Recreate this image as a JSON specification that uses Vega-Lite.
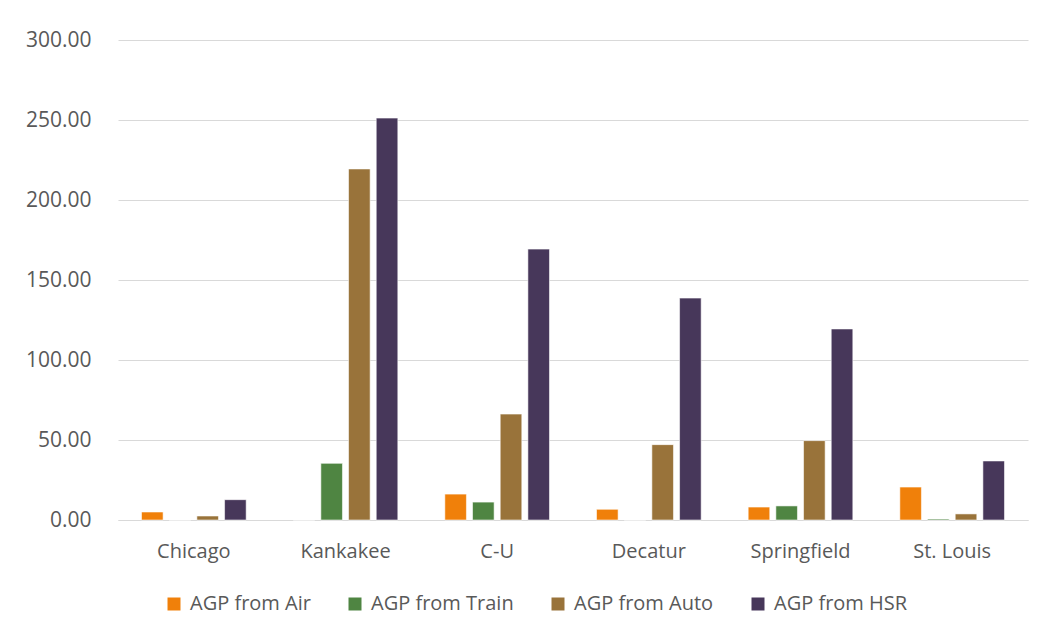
{
  "$schema": "https://vega.github.io/schema/vega-lite/v6.json",
  "autosize": {"type": "none"},
  "width": 910,
  "height": 480,
  "padding": {"left": 118, "top": 40, "right": 16, "bottom": 117},
  "background": "white",
  "config": {
    "view": {"stroke": null},
    "font": "Open Sans",
    "axis": {"labelFont": "Open Sans", "labelColor": "#595959", "labelFontSize": 20}
  },
  "data": {
    "values": [
      {"city": "Chicago", "series": "AGP from Air", "value": 5.0},
      {"city": "Chicago", "series": "AGP from Train", "value": 0},
      {"city": "Chicago", "series": "AGP from Auto", "value": 2.5},
      {"city": "Chicago", "series": "AGP from HSR", "value": 12.7},
      {"city": "Kankakee", "series": "AGP from Air", "value": 0},
      {"city": "Kankakee", "series": "AGP from Train", "value": 35.4},
      {"city": "Kankakee", "series": "AGP from Auto", "value": 219.4},
      {"city": "Kankakee", "series": "AGP from HSR", "value": 251.2},
      {"city": "C-U", "series": "AGP from Air", "value": 16.2},
      {"city": "C-U", "series": "AGP from Train", "value": 11.2},
      {"city": "C-U", "series": "AGP from Auto", "value": 66.2},
      {"city": "C-U", "series": "AGP from HSR", "value": 169.3},
      {"city": "Decatur", "series": "AGP from Air", "value": 6.7},
      {"city": "Decatur", "series": "AGP from Train", "value": 0},
      {"city": "Decatur", "series": "AGP from Auto", "value": 47.1},
      {"city": "Decatur", "series": "AGP from HSR", "value": 138.7},
      {"city": "Springfield", "series": "AGP from Air", "value": 8.1},
      {"city": "Springfield", "series": "AGP from Train", "value": 8.8},
      {"city": "Springfield", "series": "AGP from Auto", "value": 49.6},
      {"city": "Springfield", "series": "AGP from HSR", "value": 119.4},
      {"city": "St. Louis", "series": "AGP from Air", "value": 20.6},
      {"city": "St. Louis", "series": "AGP from Train", "value": 0.6},
      {"city": "St. Louis", "series": "AGP from Auto", "value": 3.8},
      {"city": "St. Louis", "series": "AGP from HSR", "value": 36.9}
    ]
  },
  "mark": {"type": "bar", "stroke": "white", "strokeWidth": 0.8, "strokeOpacity": 0.7},
  "encoding": {
    "x": {
      "field": "city",
      "type": "nominal",
      "sort": null,
      "scale": {"paddingInner": 0.31, "paddingOuter": 0.155},
      "axis": {"title": null, "labelAngle": 0, "ticks": false, "domain": true, "domainColor": "#D9D9D9", "domainWidth": 1.2, "labelPadding": 21}
    },
    "xOffset": {
      "field": "series",
      "type": "nominal",
      "sort": ["AGP from Air", "AGP from Train", "AGP from Auto", "AGP from HSR"],
      "scale": {"paddingInner": 0.22, "paddingOuter": 0}
    },
    "y": {
      "field": "value",
      "type": "quantitative",
      "scale": {"domain": [0, 300], "nice": false},
      "axis": {"title": null, "format": ".2f", "values": [0, 50, 100, 150, 200, 250, 300], "ticks": false, "domain": false, "gridColor": "#D9D9D9", "gridWidth": 1.2, "labelPadding": 27, "labelFontSize": 21}
    },
    "color": {
      "field": "series",
      "type": "nominal",
      "scale": {
        "domain": ["AGP from Air", "AGP from Train", "AGP from Auto", "AGP from HSR"],
        "range": ["#F0800A", "#4F8542", "#99733A", "#47375A"]
      },
      "legend": {
        "title": null,
        "orient": "none",
        "direction": "horizontal",
        "legendX": 46,
        "legendY": 554,
        "symbolType": "square",
        "symbolSize": 169,
        "symbolStrokeWidth": 0,
        "labelFont": "Open Sans",
        "labelFontSize": 20,
        "labelColor": "#595959",
        "labelOffset": 6,
        "columnPadding": 34,
        "labelLimit": 300
      }
    }
  }
}
